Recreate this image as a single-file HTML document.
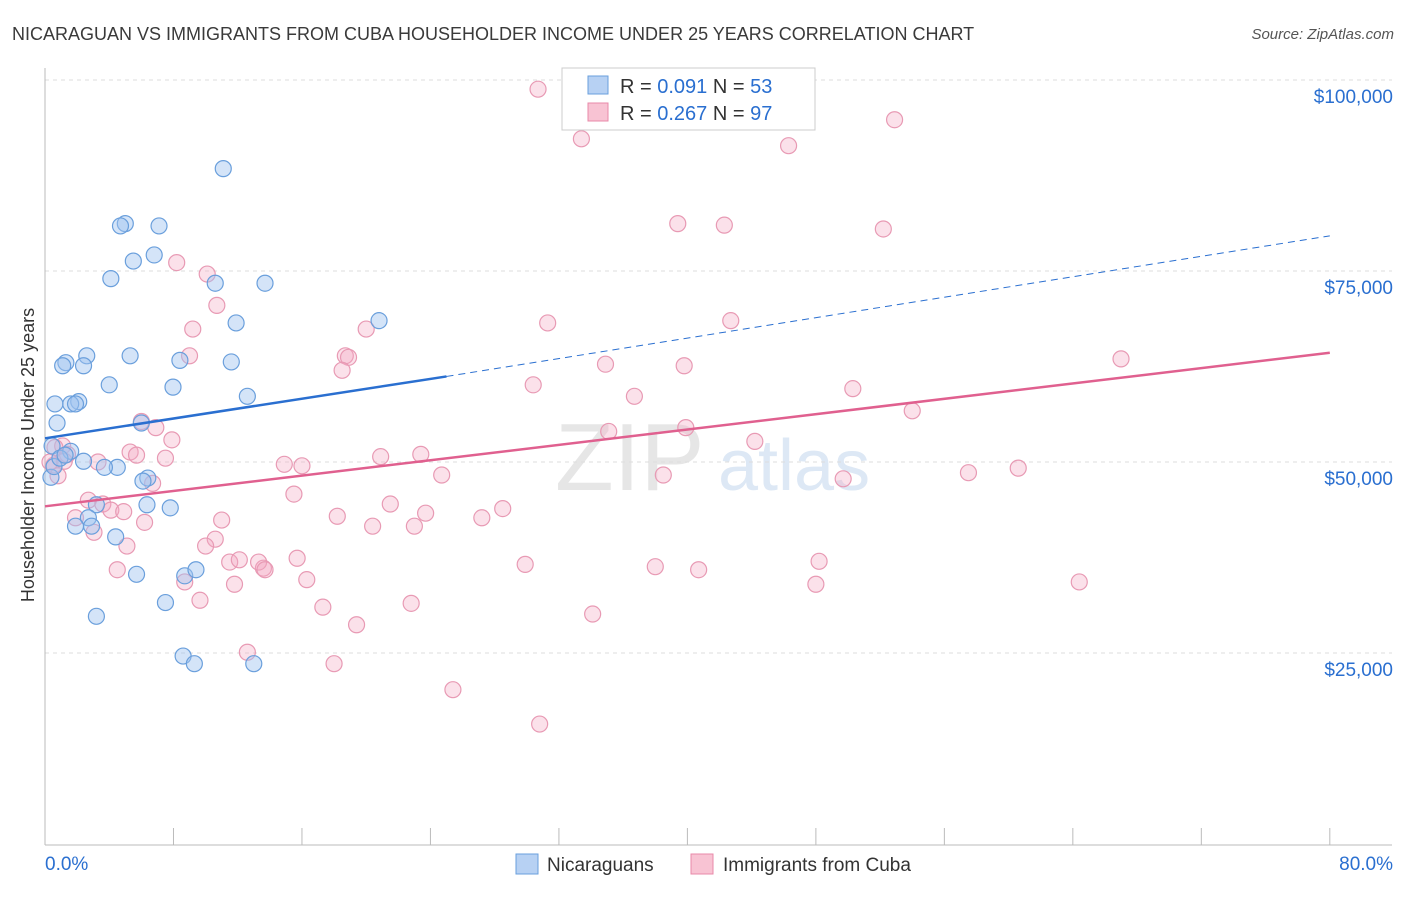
<!DOCTYPE html>
<html><head><meta charset="utf-8">
<style>
body{margin:0;background:#fff;font-family:"Liberation Sans",sans-serif;}
svg text{font-family:"Liberation Sans",sans-serif;}
</style></head>
<body>
<svg id="chart" width="1406" height="892" xmlns="http://www.w3.org/2000/svg">
<text x="12" y="40" font-size="18" fill="#3a3a3a">NICARAGUAN VS IMMIGRANTS FROM CUBA HOUSEHOLDER INCOME UNDER 25 YEARS CORRELATION CHART</text>
<text x="1394" y="39" font-size="15" fill="#555" text-anchor="end" font-style="italic">Source: ZipAtlas.com</text>
<text x="555" y="490" font-size="96" fill="#e6e6e6" font-family="Liberation Serif">ZIP</text>
<text x="718" y="490" font-size="72" fill="#dde8f5">atlas</text>
<g id="grid"></g>
<g id="axes"></g>
<g id="marks"></g>
<text transform="translate(34,455) rotate(-90)" font-size="18" fill="#333" text-anchor="middle">Householder Income Under 25 years</text>
<g>
<rect x="562" y="68" width="253" height="62" fill="#fff" stroke="#ccc"/>
<rect x="588" y="76" width="20" height="18" fill="#b7d1f3" stroke="#6a9fdc"/>
<rect x="588" y="103" width="20" height="18" fill="#f8c3d3" stroke="#e88aa8"/>
<text x="620" y="93" font-size="20" fill="#333">R = <tspan fill="#2a6fd0">0.091</tspan>   N = <tspan fill="#2a6fd0">53</tspan></text>
<text x="620" y="120" font-size="20" fill="#333">R = <tspan fill="#2a6fd0">0.267</tspan>   N = <tspan fill="#2a6fd0">97</tspan></text>
</g>
<g>
<rect x="516" y="854" width="22" height="20" fill="#b7d1f3" stroke="#6a9fdc"/>
<text x="547" y="871" font-size="19" fill="#333">Nicaraguans</text>
<rect x="691" y="854" width="22" height="20" fill="#f8c3d3" stroke="#e88aa8"/>
<text x="723" y="871" font-size="19" fill="#333">Immigrants from Cuba</text>
</g>
</svg>
<script>
const yTicks=[25000,50000,75000,100000];
const yTickLabels=["$25,000","$50,000","$75,000","$100,000"];
const xTickLabels=["0.0%","80.0%"];
const blueX=[11.1,5.0,4.7,7.1,6.8,5.5,4.1,13.7,10.6,11.9,20.8,2.6,5.3,1.3,1.1,2.4,8.4,11.6,4.0,7.97,12.6,2.1,1.6,1.9,0.62,6.0,0.75,0.44,1.6,2.4,4.5,3.7,0.37,6.4,6.1,7.8,3.2,6.35,2.7,1.9,2.9,4.4,5.7,8.7,9.4,7.5,3.2,8.6,9.3,13.0,0.56,0.93,1.25];
const blueY=[88.4,81.2,80.9,80.9,77.1,76.3,74.0,73.4,73.4,68.2,68.5,63.9,63.9,63.0,62.6,62.6,63.3,63.1,60.1,59.8,58.6,57.9,57.6,57.6,57.6,55.1,55.1,52.1,51.4,50.1,49.3,49.3,48.0,47.9,47.5,44.0,44.4,44.4,42.7,41.6,41.6,40.2,35.3,35.1,35.9,31.6,29.8,24.6,23.6,23.6,49.4,50.5,50.9];
const pinkX=[30.7,33.4,52.9,46.3,39.4,42.3,52.2,8.2,10.1,10.7,9.2,31.3,42.7,20.0,18.7,18.9,9.0,34.9,39.8,18.5,30.4,36.7,50.3,67.0,54.0,6.0,6.9,35.1,39.9,44.2,7.9,1.1,0.62,1.4,0.56,5.3,5.7,7.5,14.9,16.0,20.9,23.4,38.5,57.5,60.6,49.7,1.2,0.31,0.81,3.3,6.7,24.7,15.5,2.7,3.6,4.1,4.9,21.5,28.5,18.2,23.7,27.2,1.9,6.2,11.0,20.4,23.0,10.6,3.05,5.1,10.0,11.5,13.6,15.7,12.1,13.3,4.5,29.9,38.0,40.7,48.2,64.4,8.7,11.8,16.3,48.0,9.65,17.3,22.8,34.1,19.4,12.6,18.0,25.4,30.8,13.7];
const pinkY=[98.8,92.3,94.8,91.4,81.2,81.0,80.5,76.1,74.6,70.5,67.4,68.2,68.5,67.4,63.9,63.7,63.9,62.8,62.6,62.0,60.1,58.6,59.6,63.5,56.7,55.3,54.5,54.0,54.5,52.7,52.9,52.1,51.9,51.0,49.6,51.3,50.9,50.5,49.7,49.5,50.7,51.0,48.3,48.6,49.2,47.8,50.1,50.0,48.2,50.0,47.2,48.3,45.8,45.0,44.5,43.7,43.5,44.5,43.9,42.9,43.3,42.7,42.7,42.1,42.4,41.6,41.6,39.9,40.8,39.0,39.0,36.9,36.1,37.4,37.2,36.9,35.9,36.6,36.3,35.9,37.0,34.3,34.3,34.0,34.6,34.0,31.9,31.0,31.5,30.1,28.7,25.1,23.6,20.2,15.7,35.9];
const blueTrend=[[0,53.1],[25,61.2],[80,79.6]];
const pinkTrend=[[0,44.2],[80,64.3]];
const NS="http://www.w3.org/2000/svg";
const X=p=>45+p*16.06;
const Y=v=>844-v*191/25;
function mk(t,a,parent){const e=document.createElementNS(NS,t);for(const k in a)e.setAttribute(k,a[k]);document.getElementById(parent).appendChild(e);return e;}
// grid
[25,50,75,100].forEach((v,i)=>{
 const g=mk('line',{x1:45,x2:1392,y1:Y(v),y2:Y(v),stroke:'#ddd','stroke-dasharray':'4,4'},'grid');
 
 const t=mk('text',{x:1393,y:Y(v)+23,'font-size':19,fill:'#2a6fd0','text-anchor':'end'},'axes');
 t.textContent=yTickLabels[i];
 
});
mk('line',{x1:45,x2:45,y1:68,y2:845,stroke:'#bbb'},'axes');
mk('line',{x1:45,x2:1392,y1:845,y2:845,stroke:'#bbb'},'axes');
for(let i=0;i<=10;i++){const l=mk('line',{x1:X(i*8),x2:X(i*8),y1:828,y2:845,stroke:'#bbb'},'axes');}
let t0=mk('text',{x:45,y:870,'font-size':19,fill:'#2a6fd0'},'axes');t0.textContent=xTickLabels[0];

let t1=mk('text',{x:1393,y:870,'font-size':19,fill:'#2a6fd0','text-anchor':'end'},'axes');t1.textContent=xTickLabels[1];

// points
pinkX.forEach((p,i)=>{const c=mk('circle',{cx:X(p),cy:Y(pinkY[i]),r:8,fill:'rgba(244,170,195,0.35)',stroke:'#e89ab4','stroke-width':1.2},'marks');
 });
blueX.forEach((p,i)=>{const c=mk('circle',{cx:X(p),cy:Y(blueY[i]),r:8,fill:'rgba(160,195,240,0.45)',stroke:'#6a9fdc','stroke-width':1.2},'marks');
 });
// trends
let bl=mk('line',{x1:X(blueTrend[0][0]),y1:Y(blueTrend[0][1]),x2:X(blueTrend[1][0]),y2:Y(blueTrend[1][1]),stroke:'#2a6fd0','stroke-width':2.5},'marks');

let bd=mk('line',{x1:X(blueTrend[1][0]),y1:Y(blueTrend[1][1]),x2:X(blueTrend[2][0]),y2:Y(blueTrend[2][1]),stroke:'#2a6fd0','stroke-width':1,'stroke-dasharray':'7,5'},'marks');

let pl=mk('line',{x1:X(pinkTrend[0][0]),y1:Y(pinkTrend[0][1]),x2:X(pinkTrend[1][0]),y2:Y(pinkTrend[1][1]),stroke:'#e0608f','stroke-width':2.5},'marks');

</script>
</body></html>
